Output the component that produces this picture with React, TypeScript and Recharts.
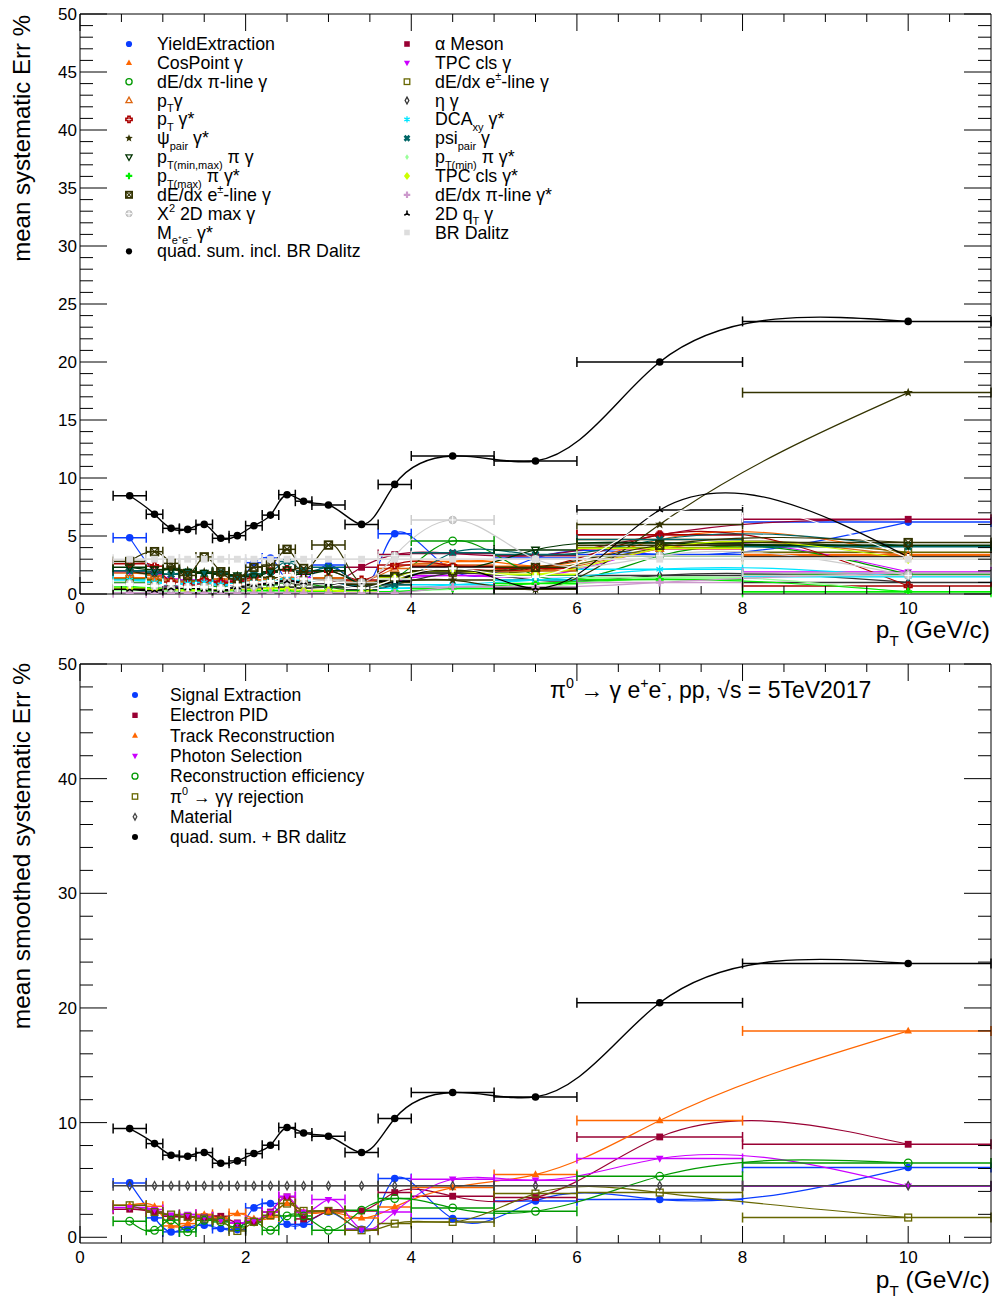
import React from 'react';
import { ComposedChart, Line, Scatter, XAxis, YAxis, ErrorBar, Customized, ReferenceLine } from 'recharts';

const FONT = "'Liberation Sans', Arial, Helvetica, sans-serif";

// ---------- bins ----------
const PT = [0.6, 0.9, 1.1, 1.3, 1.5, 1.7, 1.9, 2.1, 2.3, 2.5, 2.7, 3.0, 3.4, 3.8, 4.5, 5.5, 7.0, 10.0];
const PT_ERR = [0.2, 0.1, 0.1, 0.1, 0.1, 0.1, 0.1, 0.1, 0.1, 0.1, 0.1, 0.2, 0.2, 0.2, 0.5, 0.5, 1.0, 2.0];
const X_MAX = 11;

// ---------- tick labels ----------
const X_MAJOR = [0, 2, 4, 6, 8, 10];
const X_MINOR = [0.5, 1, 1.5, 2.5, 3, 3.5, 4.5, 5, 5.5, 6.5, 7, 7.5, 8.5, 9, 9.5, 10.5];
const Y_TOP_MAJOR = [0, 5, 10, 15, 20, 25, 30, 35, 40, 45, 50];
const Y_TOP_MINOR = Array.from({ length: 51 }, (_, i) => i).filter((v) => v % 5 !== 0);
const Y_BOT_MAJOR = [0, 10, 20, 30, 40, 50];
const Y_BOT_MINOR = Array.from({ length: 26 }, (_, i) => i * 2).filter((v) => v % 10 !== 0);

// ---------- top panel: mean systematic errors ----------
const yieldExtraction = [4.85, 1.8, 0.6, 0.9, 1.1, 0.8, 0.7, 2.7, 3.1, 1.2, 1.2, 2.5, 0.7, 5.2, 2.0, 3.1, 3.4, 6.2];
const alphaMeson = [0.9, 0.8, 0.7, 0.8, 0.9, 1.0, 0.8, 1.0, 1.1, 1.2, 1.3, 1.0, 2.3, 3.4, 3.5, 3.3, 5.1, 6.44];
const cosPoint = [1.4, 1.3, 0.9, 0.9, 1.2, 1.1, 1.3, 1.0, 1.0, 1.4, 1.3, 1.2, 1.0, 1.2, 2.8, 2.4, 4.7, 3.4];
const tpcClsGamma = [1.9, 1.7, 1.3, 1.2, 1.2, 1.1, 1.2, 1.0, 1.1, 1.5, 1.4, 1.3, 0.9, 1.2, 1.6, 1.5, 3.9, 1.9];
const dEdxPiLine = [1.0, 0.7, 0.4, 0.5, 0.6, 0.6, 0.4, 0.7, 0.8, 1.0, 0.9, 0.6, 0.3, 1.3, 4.57, 1.6, 3.3, 1.7];
const dEdxELineOpen = [1.3, 1.2, 1.0, 1.1, 1.2, 1.0, 0.9, 1.0, 1.2, 1.4, 1.2, 1.3, 0.8, 1.4, 1.8, 2.0, 4.0, 3.6];
const ptGamma = [1.8, 1.6, 1.2, 1.0, 1.1, 1.3, 1.0, 1.2, 1.3, 1.5, 1.2, 1.4, 1.1, 2.2, 2.5, 2.0, 3.9, 3.3];
const etaGamma = [0.5, 0.5, 0.4, 0.5, 0.5, 0.4, 0.4, 0.5, 0.5, 0.6, 0.5, 0.6, 0.4, 0.8, 1.8, 1.2, 1.6, 1.0];
const ptGammaStar = [2.6, 2.4, 1.0, 0.8, 1.2, 1.0, 1.1, 1.5, 1.9, 2.1, 1.9, 2.0, 1.2, 2.5, 2.4, 2.2, 5.1, 0.69];
const dcaXY = [1.2, 1.0, 0.8, 0.9, 1.0, 0.8, 0.9, 1.0, 1.1, 1.3, 1.2, 1.0, 0.6, 0.5, 0.8, 1.2, 2.13, 1.49];
const psiPairGammaStar = [2.0, 1.8, 2.2, 2.0, 1.9, 1.8, 1.6, 1.5, 1.4, 1.0, 0.8, 1.2, 0.8, 1.0, 1.2, 0.4, 6.0, 17.36];
const psiPairGamma = [2.0, 1.9, 1.7, 1.9, 1.8, 1.9, 1.5, 1.7, 1.9, 2.8, 2.0, 2.3, 0.7, 0.8, 3.56, 3.4, 4.7, 4.08];
const ptMinMaxPi = [2.3, 2.1, 2.1, 1.9, 1.8, 1.7, 1.6, 1.5, 1.9, 2.1, 1.7, 2.0, 0.9, 1.6, 2.0, 3.8, 4.4, 4.2];
const ptMinPiStar = [0.3, 0.3, 0.2, 0.2, 0.3, 0.2, 0.2, 0.3, 0.3, 0.2, 0.2, 0.2, 0.1, 0.2, 0.4, 0.6, 1.4, 0.1];
const ptMaxPiStar = [0.6, 0.5, 0.4, 0.4, 0.3, 0.3, 0.4, 0.3, 0.3, 0.3, 0.2, 0.2, 0.1, 0.2, 0.5, 0.9, 1.26, 0.2];
const tpcClsStar = [0.5, 0.4, 0.4, 0.3, 0.4, 0.3, 0.4, 0.4, 0.5, 0.4, 0.3, 0.3, 0.15, 1.4, 2.0, 1.7, 3.94, 2.99];
const dEdxELineX = [2.8, 3.65, 2.64, 1.6, 3.2, 1.92, 1.3, 2.3, 2.5, 3.85, 2.2, 4.22, 0.9, 1.5, 2.0, 2.3, 4.2, 4.43];
const dEdxPiLineStar = [0.1, 0.1, 0.1, 0.1, 0.1, 0.1, 0.1, 0.1, 0.1, 0.1, 0.1, 0.1, 0.1, 0.1, 0.6, 0.6, 1.0, 1.84];
const chi2Max = [0.9, 0.7, 0.5, 0.6, 0.6, 0.5, 0.5, 0.7, 0.9, 1.0, 0.9, 1.2, 1.0, 3.3, 6.38, 3.0, 3.3, 1.6];
const qt2D = [0.4, 0.3, 0.5, 0.5, 0.4, 0.3, 0.6, 0.8, 0.9, 1.1, 1.0, 0.9, 0.6, 1.1, 2.3, 0.5, 7.24, 3.2];
const meeGammaStar = [0.8, 0.7, 0.9, 0.6, 0.6, 0.5, 0.8, 1.0, 1.1, 1.6, 1.3, 1.0, 0.5, 1.3, 2.2, 1.5, 6.6, 3.1];
const brDalitz = [3.0, 3.0, 3.0, 3.0, 3.0, 3.0, 3.0, 3.0, 3.0, 3.0, 3.0, 3.0, 3.0, 3.0, 3.0, 3.0, 3.0, 3.0];
const quadSumTop = [8.47, 6.87, 5.66, 5.57, 6.0, 4.8, 5.03, 5.89, 6.8, 8.56, 8.0, 7.67, 6.0, 9.45, 11.9, 11.47, 20.0, 23.5];

// ---------- bottom panel: mean smoothed systematic errors ----------
const signalExtraction = [4.74, 1.69, 0.47, 0.85, 1.05, 0.76, 0.67, 2.56, 2.94, 1.13, 1.13, 2.2, 0.7, 5.12, 1.63, 3.17, 3.29, 6.08];
const electronPID = [2.45, 2.2, 1.83, 1.78, 1.78, 1.83, 1.25, 1.34, 2.2, 3.52, 1.6, 2.3, 2.3, 3.9, 3.58, 3.46, 8.75, 8.11];
const trackReco = [2.79, 2.7, 0.99, 1.19, 2.0, 1.63, 2.07, 1.63, 1.77, 2.96, 2.2, 2.2, 1.69, 2.65, 4.33, 5.47, 10.18, 18.0];
const photonSel = [2.59, 2.42, 1.92, 2.0, 1.78, 1.48, 1.25, 1.48, 2.2, 3.58, 2.2, 3.29, 0.7, 2.2, 5.06, 4.97, 6.87, 4.45];
const recoEff = [1.4, 0.61, 1.5, 0.47, 1.48, 1.34, 0.9, 1.34, 0.61, 1.86, 1.86, 0.61, 2.36, 3.38, 2.56, 2.27, 5.32, 6.48];
const pi0Rejection = [2.79, 2.2, 1.98, 1.78, 1.63, 1.48, 0.55, 1.34, 1.92, 2.94, 2.3, 2.3, 0.61, 1.19, 1.34, 3.81, 3.9, 1.72];
const material = [4.5, 4.5, 4.5, 4.5, 4.5, 4.5, 4.5, 4.5, 4.5, 4.5, 4.5, 4.5, 4.5, 4.5, 4.5, 4.5, 4.5, 4.5];
const quadSumBottom = [9.48, 8.17, 7.16, 7.07, 7.39, 6.46, 6.66, 7.3, 8.03, 9.57, 9.1, 8.81, 7.39, 10.36, 12.63, 12.24, 20.45, 23.88];

type Seg = [string, string?];
type Series = { id: string; values: number[]; color: string; marker: string; label: Seg[]; lw?: number };

const TOP_SERIES: Series[] = [
  { id: 'yield', values: yieldExtraction, color: '#0a3cff', marker: 'circle', label: [['YieldExtraction']] },
  { id: 'alpha', values: alphaMeson, color: '#990033', marker: 'square', label: [['α Meson']] },
  { id: 'cos', values: cosPoint, color: '#ff6600', marker: 'tri', label: [['CosPoint γ']] },
  { id: 'tpc', values: tpcClsGamma, color: '#cc00ff', marker: 'tridown', label: [['TPC cls γ']] },
  { id: 'dedxpi', values: dEdxPiLine, color: '#009900', marker: 'ocircle', label: [['dE/dx π-line γ']] },
  { id: 'dedxe2', values: dEdxELineOpen, color: '#666600', marker: 'osquare', label: [['dE/dx e'], ['±', 'sup'], ['-line γ']] },
  { id: 'ptg', values: ptGamma, color: '#dd6611', marker: 'otri', label: [['p'], ['T', 'sub'], ['γ']] },
  { id: 'eta', values: etaGamma, color: '#333333', marker: 'odiamond', label: [['η γ']] },
  { id: 'ptgs', values: ptGammaStar, color: '#aa0000', marker: 'ocross', label: [['p'], ['T', 'sub'], [' γ*']] },
  { id: 'dca', values: dcaXY, color: '#00e5ff', marker: 'asterisk', label: [['DCA'], ['xy', 'sub'], [' γ*']] },
  { id: 'psis', values: psiPairGammaStar, color: '#333300', marker: 'star', label: [['ψ'], ['pair', 'sub'], [' γ*']] },
  { id: 'psig', values: psiPairGamma, color: '#006666', marker: 'xmark', label: [['psi'], ['pair', 'sub'], [' γ']] },
  { id: 'ptmm', values: ptMinMaxPi, color: '#003300', marker: 'otridown', label: [['p'], ['T(min,max)', 'sub'], [' π γ']] },
  { id: 'ptmin', values: ptMinPiStar, color: '#99ff99', marker: 'sdiamond', label: [['p'], ['T(min)', 'sub'], [' π γ*']] },
  { id: 'ptmax', values: ptMaxPiStar, color: '#00ee00', marker: 'plus', label: [['p'], ['T(max)', 'sub'], [' π γ*']] },
  { id: 'tpcs', values: tpcClsStar, color: '#ccff00', marker: 'diamond', label: [['TPC cls γ*']] },
  { id: 'dedxe1', values: dEdxELineX, color: '#333300', marker: 'xsquare', label: [['dE/dx e'], ['±', 'sup'], ['-line γ']] },
  { id: 'dedxpis', values: dEdxPiLineStar, color: '#cc99cc', marker: 'flower', label: [['dE/dx π-line γ*']] },
  { id: 'chi2', values: chi2Max, color: '#cccccc', marker: 'cplus', label: [['X'], ['2', 'sup'], [' 2D max γ']] },
  { id: 'qt', values: qt2D, color: '#000000', marker: 'tristar', label: [['2D q'], ['T', 'sub'], [' γ']] },
  { id: 'mee', values: meeGammaStar, color: '#ffffff', marker: 'flower', label: [['M'], ['e⁺e⁻', 'sub'], [' γ*']] },
  { id: 'br', values: brDalitz, color: '#dddddd', marker: 'square', label: [['BR Dalitz']] },
  { id: 'sum', values: quadSumTop, color: '#000000', marker: 'circle', label: [['quad. sum. incl. BR Dalitz']], lw: 1.4 },
];

const BOTTOM_SERIES: Series[] = [
  { id: 'sig', values: signalExtraction, color: '#0a3cff', marker: 'circle', label: [['Signal Extraction']] },
  { id: 'pid', values: electronPID, color: '#990033', marker: 'square', label: [['Electron PID']] },
  { id: 'trk', values: trackReco, color: '#ff6600', marker: 'tri', label: [['Track Reconstruction']] },
  { id: 'pho', values: photonSel, color: '#cc00ff', marker: 'tridown', label: [['Photon Selection']] },
  { id: 'eff', values: recoEff, color: '#009900', marker: 'ocircle', label: [['Reconstruction efficiency']] },
  { id: 'rej', values: pi0Rejection, color: '#666600', marker: 'osquare', label: [['π'], ['0', 'sup'], [' → γγ rejection']] },
  { id: 'mat', values: material, color: '#444444', marker: 'odiamond', label: [['Material']] },
  { id: 'sumb', values: quadSumBottom, color: '#000000', marker: 'circle', label: [['quad. sum. + BR dalitz']], lw: 1.4 },
];

// ---------- smoothing (parametric natural cubic spline, like ROOT "C") ----------
function naturalSecond(t: number[], v: number[]): number[] {
  const n = v.length;
  const M = new Array(n).fill(0);
  if (n < 3) return M;
  const a: number[] = [], b: number[] = [], c: number[] = [], d: number[] = [];
  for (let i = 1; i < n - 1; i++) {
    const h0 = t[i] - t[i - 1], h1 = t[i + 1] - t[i];
    a.push(h0); b.push(2 * (h0 + h1)); c.push(h1);
    d.push(6 * ((v[i + 1] - v[i]) / h1 - (v[i] - v[i - 1]) / h0));
  }
  const m = a.length;
  for (let i = 1; i < m; i++) {
    const w = a[i] / b[i - 1];
    b[i] -= w * c[i - 1];
    d[i] -= w * d[i - 1];
  }
  const sol = new Array(m);
  sol[m - 1] = d[m - 1] / b[m - 1];
  for (let i = m - 2; i >= 0; i--) sol[i] = (d[i] - c[i] * sol[i + 1]) / b[i];
  for (let i = 0; i < m; i++) M[i + 1] = sol[i];
  return M;
}

const rootSmooth: any = (context: any) => {
  let px: number[] = [];
  let py: number[] = [];
  return {
    areaStart() {},
    areaEnd() {},
    lineStart() { px = []; py = []; },
    point(x: number, y: number) { px.push(+x); py.push(+y); },
    lineEnd() {
      const n = px.length;
      if (!n) return;
      context.moveTo(px[0], py[0]);
      if (n === 1) return;
      const t = [0];
      for (let i = 1; i < n; i++) t.push(t[i - 1] + Math.max(1e-3, Math.hypot(px[i] - px[i - 1], py[i] - py[i - 1])));
      const mx = naturalSecond(t, px);
      const my = naturalSecond(t, py);
      for (let i = 0; i < n - 1; i++) {
        const h = t[i + 1] - t[i];
        const sx = (px[i + 1] - px[i]) / h, sy = (py[i + 1] - py[i]) / h;
        const dx0 = sx - (h * (2 * mx[i] + mx[i + 1])) / 6;
        const dx1 = sx + (h * (mx[i] + 2 * mx[i + 1])) / 6;
        const dy0 = sy - (h * (2 * my[i] + my[i + 1])) / 6;
        const dy1 = sy + (h * (my[i] + 2 * my[i + 1])) / 6;
        context.bezierCurveTo(px[i] + (h * dx0) / 3, py[i] + (h * dy0) / 3, px[i + 1] - (h * dx1) / 3, py[i + 1] - (h * dy1) / 3, px[i + 1], py[i + 1]);
      }
    },
  };
};

// ---------- markers ----------
function Marker({ kind, cx, cy, color, s = 3.8 }: any) {
  if (cx == null || cy == null || isNaN(cx) || isNaN(cy)) return null;
  const sw = 1.3;
  const poly = (pts: number[][]) => pts.map((p) => `${cx + p[0] * s},${cy + p[1] * s}`).join(' ');
  switch (kind) {
    case 'circle':
      return <circle cx={cx} cy={cy} r={s} fill={color} />;
    case 'ocircle':
      return <circle cx={cx} cy={cy} r={s} fill="none" stroke={color} strokeWidth={sw} />;
    case 'tri':
      return <polygon points={poly([[0, -1.1], [1, 0.7], [-1, 0.7]])} fill={color} />;
    case 'otri':
      return <polygon points={poly([[0, -1.1], [1, 0.7], [-1, 0.7]])} fill="none" stroke={color} strokeWidth={sw} />;
    case 'tridown':
      return <polygon points={poly([[0, 1.1], [1, -0.7], [-1, -0.7]])} fill={color} />;
    case 'otridown':
      return <polygon points={poly([[0, 1.1], [1, -0.7], [-1, -0.7]])} fill="none" stroke={color} strokeWidth={sw} />;
    case 'square':
      return <rect x={cx - s * 0.9} y={cy - s * 0.9} width={s * 1.8} height={s * 1.8} fill={color} />;
    case 'osquare':
      return <rect x={cx - s * 0.9} y={cy - s * 0.9} width={s * 1.8} height={s * 1.8} fill="none" stroke={color} strokeWidth={sw} />;
    case 'xsquare':
      return (
        <g>
          <rect x={cx - s} y={cy - s} width={s * 2} height={s * 2} fill="none" stroke={color} strokeWidth={1.8} />
          <path d={`M${cx - s},${cy - s}L${cx + s},${cy + s}M${cx + s},${cy - s}L${cx - s},${cy + s}`} stroke={color} strokeWidth={1.2} />
        </g>
      );
    case 'diamond':
      return <polygon points={poly([[0, -1.3], [1, 0], [0, 1.3], [-1, 0]])} fill={color} />;
    case 'sdiamond':
      return <polygon points={poly([[0, -0.9], [0.6, 0], [0, 0.9], [-0.6, 0]])} fill={color} />;
    case 'odiamond':
      return <polygon points={poly([[0, -1.1], [0.6, 0], [0, 1.1], [-0.6, 0]])} fill="none" stroke={color} strokeWidth={sw} />;
    case 'star': {
      const pts: number[][] = [];
      for (let i = 0; i < 10; i++) {
        const ang = (-90 + i * 36) * (Math.PI / 180);
        const r = i % 2 === 0 ? 1.3 : 0.55;
        pts.push([Math.cos(ang) * r, Math.sin(ang) * r]);
      }
      return <polygon points={poly(pts)} fill={color} />;
    }
    case 'ocross':
      return (
        <polygon
          points={poly([[-0.35, -1], [0.35, -1], [0.35, -0.35], [1, -0.35], [1, 0.35], [0.35, 0.35], [0.35, 1], [-0.35, 1], [-0.35, 0.35], [-1, 0.35], [-1, -0.35], [-0.35, -0.35]])}
          fill="none"
          stroke={color}
          strokeWidth={1.6}
        />
      );
    case 'plus':
    case 'flower':
      return (
        <polygon
          points={poly([[-0.35, -1.05], [0.35, -1.05], [0.35, -0.35], [1.05, -0.35], [1.05, 0.35], [0.35, 0.35], [0.35, 1.05], [-0.35, 1.05], [-0.35, 0.35], [-1.05, 0.35], [-1.05, -0.35], [-0.35, -0.35]])}
          fill={color}
        />
      );
    case 'asterisk':
      return (
        <path
          d={`M${cx},${cy - s}L${cx},${cy + s}M${cx - s * 0.87},${cy - s * 0.5}L${cx + s * 0.87},${cy + s * 0.5}M${cx - s * 0.87},${cy + s * 0.5}L${cx + s * 0.87},${cy - s * 0.5}`}
          stroke={color}
          strokeWidth={1.3}
        />
      );
    case 'xmark':
      return (
        <path d={`M${cx - s * 0.8},${cy - s * 0.8}L${cx + s * 0.8},${cy + s * 0.8}M${cx + s * 0.8},${cy - s * 0.8}L${cx - s * 0.8},${cy + s * 0.8}`} stroke={color} strokeWidth={2.6} />
      );
    case 'cplus':
      return (
        <g>
          <circle cx={cx} cy={cy} r={s} fill={color} stroke="#bbbbbb" strokeWidth={1} />
          <path d={`M${cx - s},${cy}L${cx + s},${cy}M${cx},${cy - s}L${cx},${cy + s}`} stroke="#ffffff" strokeWidth={1} />
        </g>
      );
    case 'tristar':
      return (
        <path
          d={`M${cx},${cy}L${cx},${cy - s}M${cx},${cy}L${cx + s * 0.87},${cy + s * 0.5}M${cx},${cy}L${cx - s * 0.87},${cy + s * 0.5}`}
          stroke={color}
          strokeWidth={1.6}
        />
      );
    default:
      return <circle cx={cx} cy={cy} r={s} fill={color} />;
  }
}

// ---------- rich text (sub/superscripts) ----------
function Rich({ x, y, segs, size, anchor = 'start' }: { x: number; y: number; segs: Seg[]; size: number; anchor?: string }) {
  let offset = 0;
  const kids = segs.map(([t, k], i) => {
    const target = k === 'sub' ? size * 0.32 : k === 'sup' ? -size * 0.42 : 0;
    const dy = target - offset;
    offset = target;
    const fs = k ? size * 0.62 : size;
    return (
      <tspan key={i} dy={dy} fontSize={fs}>
        {t}
      </tspan>
    );
  });
  return (
    <text x={x} y={y} fontSize={size} textAnchor={anchor as any} fill="#000" fontFamily={FONT} style={{ whiteSpace: 'pre' }}>
      {kids}
    </text>
  );
}

// ---------- overlays ----------
function TopOverlay() {
  return (
    <g>
      {TOP_SERIES.map((s, k) => {
        const row = Math.floor(k / 2);
        const col = k % 2;
        const cy = 44 + row * 18.85;
        const mx = col === 0 ? 129 : 407;
        const tx = col === 0 ? 157 : 435;
        return (
          <g key={s.id}>
            <Marker kind={s.marker} cx={mx} cy={cy} color={s.color} s={3.1} />
            <Rich x={tx} y={cy + 6} segs={s.label} size={17.8} />
          </g>
        );
      })}
      <text transform="translate(30,15) rotate(-90)" x={0} y={0} textAnchor="end" fontSize={24} fontFamily={FONT} fill="#000">
        mean systematic Err %
      </text>
      <Rich x={990} y={638} segs={[['p'], ['T', 'sub'], [' (GeV/c)']]} size={24.5} anchor="end" />
    </g>
  );
}

function BottomOverlay() {
  return (
    <g>
      {BOTTOM_SERIES.map((s, k) => {
        const cy = 45 + k * 20.3;
        return (
          <g key={s.id}>
            <Marker kind={s.marker} cx={135} cy={cy} color={s.color} s={3.0} />
            <Rich x={170} y={cy + 6} segs={s.label} size={17.5} />
          </g>
        );
      })}
      <Rich x={550} y={48} segs={[['π'], ['0', 'sup'], [' → γ e'], ['+', 'sup'], ['e'], ['-', 'sup'], [', pp, √s = 5TeV2017']]} size={23} />
      <text transform="translate(30,13) rotate(-90)" x={0} y={0} textAnchor="end" fontSize={24.5} fontFamily={FONT} fill="#000">
        mean smoothed systematic Err %
      </text>
      <Rich x={990} y={638} segs={[['p'], ['T', 'sub'], [' (GeV/c)']]} size={24.5} anchor="end" />
    </g>
  );
}

// ---------- frame (ROOT style box with inward ticks on all sides) ----------
const NoLabel = () => <g />;
const PLOT_W = 911; // px width of plot frame

function frameAxes(yDomain: [number, number]) {
  const common = { tick: NoLabel, tickLine: false, interval: 0 as const, allowDataOverflow: true, mirror: true, type: 'number' as const, ticks: [] as number[] };
  const line = { stroke: '#000', strokeWidth: 1 };
  const TH = 0.01;
  return [
    <XAxis key="xb" xAxisId="xb" orientation="bottom" height={TH} domain={[0, X_MAX]} axisLine={line} {...common} />,
    <XAxis key="xt" xAxisId="xt" orientation="top" height={TH} domain={[0, X_MAX]} axisLine={line} {...common} />,
    <YAxis key="yl" yAxisId="yl" orientation="left" width={TH} domain={yDomain} axisLine={line} {...common} />,
    <YAxis key="yr" yAxisId="yr" orientation="right" width={TH} domain={yDomain} axisLine={line} {...common} />,
  ];
}

// tick marks as short reference segments (lengths given in pixels, converted to data units)
function tickMarks(yDomain: [number, number], plotH: number, yMajor: number[], yMinor: number[]) {
  const ux = X_MAX / PLOT_W;
  const uy = (yDomain[1] - yDomain[0]) / plotH;
  const out: any[] = [];
  const seg = (key: string, a: any, b: any) =>
    out.push(<ReferenceLine key={key} segment={[a, b]} stroke="#000" strokeWidth={1} ifOverflow="visible" />);
  const yTick = (v: number, len: number, k: string) => {
    seg('yl' + k + v, { x: 0, y: v }, { x: len * ux, y: v });
    seg('yr' + k + v, { x: X_MAX - len * ux, y: v }, { x: X_MAX, y: v });
  };
  const xTick = (v: number, len: number, k: string) => {
    seg('xb' + k + v, { x: v, y: yDomain[0] }, { x: v, y: yDomain[0] + len * uy });
    seg('xt' + k + v, { x: v, y: yDomain[1] }, { x: v, y: yDomain[1] - len * uy });
  };
  yMajor.forEach((v) => yTick(v, 27, 'M'));
  yMinor.forEach((v) => yTick(v, 13, 'm'));
  X_MAJOR.forEach((v) => xTick(v, 17, 'M'));
  X_MINOR.forEach((v) => xTick(v, 8, 'm'));
  return out;
}

function seriesElements(list: Series[]) {
  const out: any[] = [];
  list.forEach((s) => {
    // x error bars: bin half-widths, cut at the frame edge like ROOT's clipping
    const rows = PT.map((x, i) => ({ x, y: s.values[i], ex: [PT_ERR[i], Math.min(PT_ERR[i], X_MAX - x)] }));
    out.push(
      <Line
        key={s.id + '-line'}
        data={rows}
        dataKey="y"
        type={rootSmooth}
        stroke={s.color}
        strokeWidth={s.lw ?? 1.2}
        dot={false}
        activeDot={false}
        isAnimationActive={false}
        legendType="none"
      />
    );
    out.push(
      <Scatter
        key={s.id + '-pts'}
        data={rows}
        dataKey="y"
        fill={s.color}
        isAnimationActive={false}
        legendType="none"
        shape={(p: any) => <Marker kind={s.marker} cx={p.cx} cy={p.cy} color={s.color} />}
      >
        <ErrorBar dataKey="ex" direction="x" width={5} stroke={s.color} strokeWidth={1.5} />
      </Scatter>
    );
  });
  return out;
}

const tickStyle = { fontSize: 17, fill: '#000', fontFamily: FONT };

function Panel({ height, marginBottom, plotH, yDomain, yMajor, yMinor, series, overlay }: any) {
  return (
    <ComposedChart width={996} height={height} margin={{ top: 14, right: 5, bottom: marginBottom, left: 0 }}>
      <XAxis dataKey="x" type="number" domain={[0, X_MAX]} ticks={X_MAJOR} interval={0} allowDataOverflow tickLine={false} axisLine={false} tick={tickStyle} height={30} tickSize={6} tickMargin={2} />
      <YAxis type="number" domain={yDomain} ticks={yMajor} interval={0} allowDataOverflow tickLine={false} axisLine={false} width={80} tick={tickStyle} tickSize={3} tickMargin={0} />
      {seriesElements(series)}
      {frameAxes(yDomain)}
      {tickMarks(yDomain, plotH, yMajor, yMinor)}
      <Customized component={overlay} />
    </ComposedChart>
  );
}

export default function App() {
  return (
    <div style={{ position: 'absolute', left: 0, top: 0, width: 996, height: 1302, background: '#fff' }}>
      <Panel height={650} marginBottom={26} plotH={580} yDomain={[0, 50]} yMajor={Y_TOP_MAJOR} yMinor={Y_TOP_MINOR} series={TOP_SERIES} overlay={TopOverlay} />
      <Panel height={652} marginBottom={29} plotH={579} yDomain={[-0.5, 50]} yMajor={Y_BOT_MAJOR} yMinor={Y_BOT_MINOR} series={BOTTOM_SERIES} overlay={BottomOverlay} />
    </div>
  );
}
